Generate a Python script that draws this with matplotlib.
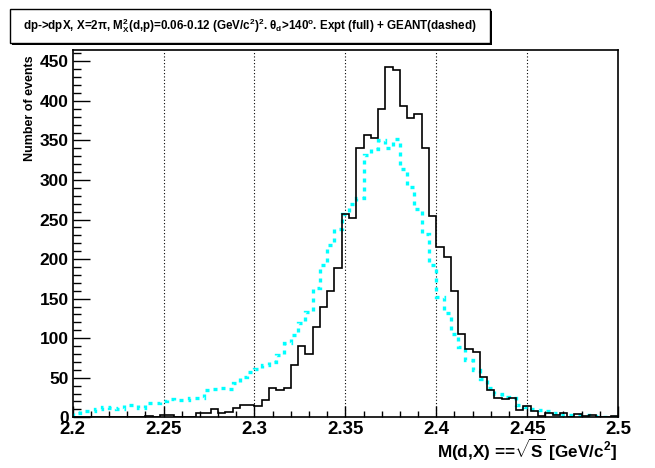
import numpy as np
import matplotlib
matplotlib.use("Agg")
import matplotlib.pyplot as plt
from matplotlib.patches import Rectangle
from matplotlib.ticker import MultipleLocator

plt.rcParams['font.family'] = ['Liberation Sans', 'DejaVu Sans']
plt.rcParams['font.weight'] = 'bold'
plt.rcParams['mathtext.fontset'] = 'custom'
plt.rcParams['mathtext.rm'] = 'Liberation Sans:bold'
plt.rcParams['mathtext.it'] = 'Liberation Sans:bold'
plt.rcParams['mathtext.bf'] = 'Liberation Sans:bold'

# binning of M(d,X): 75 bins of 4 MeV between 2.2 and 2.5 GeV
x_lo, x_hi, n_bins = 2.2, 2.5, 75

# experiment (full line)
expt = [0, 0, 0, 0, 0, 0, 1, 0, 1, 0,
        2, 1, 3, 3, 1, 0, 0, 5, 5, 11,
        6, 7, 12, 16, 15, 14, 22, 37, 35, 37,
        66, 90, 80, 114, 140, 160, 189, 257, 252, 341,
        357, 353, 390, 443, 439, 393, 378, 383, 340, 254,
        215, 203, 160, 105, 87, 82, 51, 34, 25, 23,
        24, 9, 14, 8, 2, 6, 3, 5, 1, 4,
        2, 3, 1, 1, 2]

# GEANT simulation (dashed line)
geant = [5, 8, 8, 11, 13, 12, 10, 16, 15, 12,
         18, 18, 20, 23, 22, 22, 24, 25, 34, 36,
         37, 36, 43, 51, 57, 61, 66, 70, 79, 94,
         104, 119, 133, 164, 193, 218, 238, 257, 270, 277,
         332, 339, 350, 341, 352, 314, 291, 263, 232, 192,
         152, 132, 105, 89, 72, 60, 48, 37, 29, 26,
         25, 16, 13, 11, 9, 8, 5, 3, 3, 3,
         3, 2, 1, 1, 1]

edges = np.linspace(x_lo, x_hi, n_bins + 1)

fig = plt.figure(figsize=(6.55, 4.68), dpi=100)
ax = fig.add_axes([0.111, 0.1083, 0.8325, 0.7859])

for gx in [2.25, 2.3, 2.35, 2.4, 2.45]:
    ax.axvline(gx, color='black', lw=0.8, ls=(0, (1, 2)), zorder=1)

ax.stairs(geant, edges, color='#00ffff', lw=2.4, ls=(0, (1.2, 1.5)), zorder=2)
ax.stairs(expt, edges, color='black', lw=1.2, zorder=3)

ax.set_xlim(x_lo, x_hi)
ax.set_ylim(0, 465)

ax.xaxis.set_minor_locator(MultipleLocator(0.01))
ax.yaxis.set_major_locator(MultipleLocator(50))
ax.yaxis.set_minor_locator(MultipleLocator(10))
ax.set_xticks([2.2, 2.25, 2.3, 2.35, 2.4, 2.45, 2.5])
ax.set_xticklabels(['2.2', '2.25', '2.3', '2.35', '2.4', '2.45', '2.5'])

ax.tick_params(axis='x', which='major', direction='in', length=8, width=1, labelsize=13.5, pad=3)
ax.tick_params(axis='x', which='minor', direction='in', length=4, width=1)
ax.tick_params(axis='y', which='major', direction='in', length=12, width=1, labelsize=12.5, pad=3)
ax.tick_params(axis='y', which='minor', direction='in', length=6, width=1)
for lab in ax.get_xticklabels() + ax.get_yticklabels():
    lab.set_fontweight('bold')
for s in ax.spines.values():
    s.set_linewidth(1.2)

fig.text(617 / 655, 1 - 450 / 468, r'M(d,X) ==$\sqrt{S}$ [GeV/c$^{2}$]',
         ha='right', va='center', fontsize=12.3, fontweight='bold')
fig.text(30 / 655, 1 - 55 / 468, 'Number of events', rotation=90,
         ha='center', va='top', fontsize=9, fontweight='bold')

# title pave with shadow
bx0, by0, bw, bh = 10 / 655, 1 - 43 / 468, 480 / 655, 34 / 468
fig.patches.append(Rectangle((bx0 + 2 / 655, by0 - 2 / 468), bw, bh, transform=fig.transFigure,
                             facecolor='black', edgecolor='black', lw=0))
fig.patches.append(Rectangle((bx0, by0), bw, bh, transform=fig.transFigure,
                             facecolor='white', edgecolor='black', lw=1))
fig.text(bx0 + bw / 2, by0 + bh / 2,
         r'dp->dpX, X=2$\pi$, M$^{2}_{X}$(d,p)=0.06-0.12 (GeV/c$^{2}$)$^{2}$. '
         r'$\theta_{d}$>140$^{o}$. Expt (full) + GEANT(dashed)',
         ha='center', va='center', fontsize=8.4, fontweight='bold')

fig.savefig('out.png', dpi=100)
